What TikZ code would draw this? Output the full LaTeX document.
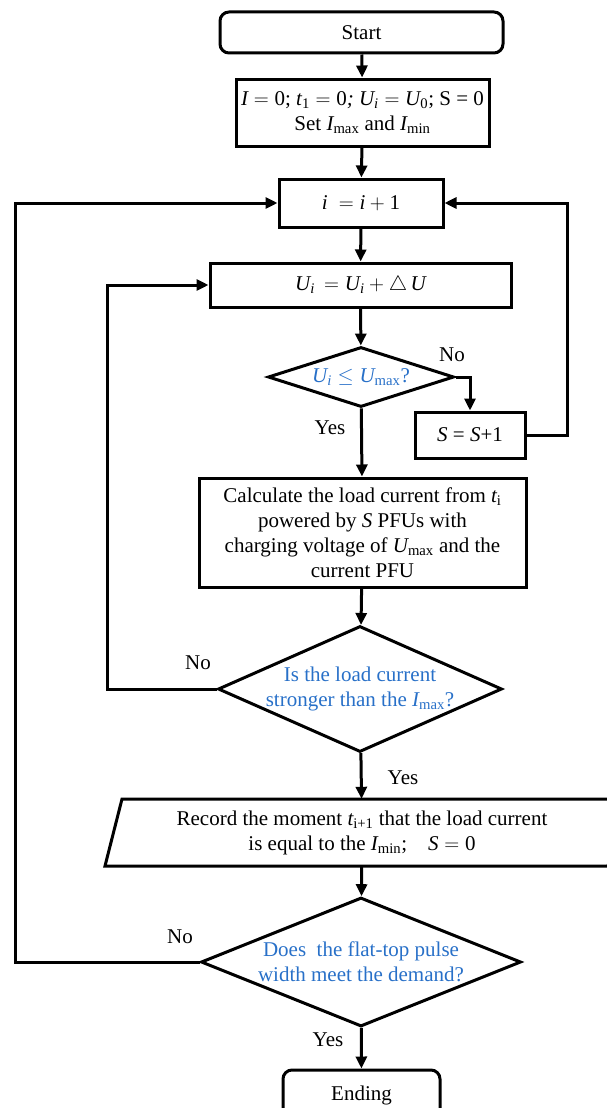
\documentclass[tikz,border=0pt]{standalone}
\usepackage{amsmath}
\usepackage{fontspec}
\setmainfont{Liberation Serif}
\usetikzlibrary{shapes.geometric,arrows.meta}
\definecolor{qblue}{RGB}{40,112,200}
\newcommand\vv[1]{\textit{#1}}
\newcommand\nn[1]{\textrm{#1}}

\begin{document}
\begin{tikzpicture}[x=1pt,y=-1pt,
  every node/.style={font=\fontsize{21}{25}\selectfont},
  line/.style={line width=3pt},
  flow/.style={line, -{Triangle[length=12pt,width=11pt]}},
  box/.style={draw, line width=3pt, rectangle, align=center, inner sep=0pt},
  term/.style={box, rounded corners=9pt},
  dia/.style={draw, line width=3pt, diamond, inner sep=0pt},
  qtext/.style={align=center, text=qblue, inner sep=0pt},
  lbl/.style={inner sep=0pt}
]
\useasboundingbox (0,0) rectangle (606,1108);

% main column
\node[term, minimum width=283pt, minimum height=41pt] (start) at (361.5,32.5) {Start};
\node[box, minimum width=253pt, minimum height=67pt] (init) at (362.5,112.5)
  {$\vv{I} = \nn{0}$; $\vv{t}_{\nn{1}} = \nn{0}$\textit{;} $\vv{U}_{\vv{i}} = \vv{U}_{\nn{0}}$; S = 0\\
   Set $\vv{I}_{\textrm{max}}$ and $\vv{I}_{\textrm{min}}$};
\node[box, minimum width=164pt, minimum height=48pt] (inc) at (361,203) {$\vv{i}\ = \vv{i} + \nn{1}$};
\node[box, minimum width=301pt, minimum height=44pt] (upd) at (360.5,285)
  {$\vv{U}_{\vv{i}}\, = \vv{U}_{\vv{i}} + \triangle\, \vv{U}$};
\node[dia, minimum width=186pt, minimum height=60pt] (d1) at (361,377) {};
\node[qtext] at (d1) {$\vv{U}_{\vv{i}} \le \vv{U}_{\textrm{max}}$?};
\node[box, minimum width=110pt, minimum height=46pt] (sbox) at (470,435) {$\vv{S}$ = $\vv{S}$+1};
\node[box, minimum width=327pt, minimum height=109pt] (calc) at (362.5,532.5)
  {Calculate the load current from $\vv{t}_{\textrm{i}}$\\
   powered by $\vv{S}$ PFUs with\\
   charging voltage of $\vv{U}_{\textrm{max}}$ and the\\
   current PFU};
\node[dia, minimum width=284pt, minimum height=126pt] (d2) at (360,689) {};
\node[qtext] at (d2) {Is the load current\\ stronger than the $\vv{I}_{\textrm{max}}$?};

% record step (parallelogram)
\draw[line] (105,866) -- (122,799) -- (625,799) -- (608,866) -- cycle;
\node[align=center, inner sep=0pt, minimum width=480pt, minimum height=67pt] (rec) at (362,832.5)
  {Record the moment $\vv{t}_{\textrm{i+1}}$ that the load current\\
   is equal to the $\vv{I}_{\textrm{min}}$;\quad $\vv{S} = \nn{0}$};

\node[dia, minimum width=320pt, minimum height=129pt] (d3) at (361,962) {};
\node[qtext] at (d3) {Does\ \ the flat-top pulse\\ width meet the demand?};
\node[term, minimum width=157pt, minimum height=50pt] (ending) at (361.5,1095) {Ending};

% straight flow
\draw[flow] (start) -- (init);
\draw[flow] (init) -- (inc);
\draw[flow] (inc) -- (upd);
\draw[flow] (upd) -- (d1);
\draw[flow] (d1) -- (calc);
\draw[flow] (calc) -- (d2);
\draw[flow] (d2) -- (rec);
\draw[flow] (rec) -- (d3);
\draw[flow] (d3) -- (ending);

% branches and loops
\draw[flow] (d1.east) -| (sbox.north);
\draw[flow] (sbox.east) -- ++(41,0) |- (inc.east);
\draw[flow] (d2.west) -- ++(-109,0) |- (upd.west);
\draw[flow] (d3.west) -- ++(-184,0) |- (inc.west);

% branch labels
\node[lbl] at (452,355) {No};
\node[lbl] at (330,428) {Yes};
\node[lbl] at (198,663) {No};
\node[lbl] at (403,778) {Yes};
\node[lbl] at (180,937) {No};
\node[lbl] at (328,1040) {Yes};
\end{tikzpicture}
\end{document}
